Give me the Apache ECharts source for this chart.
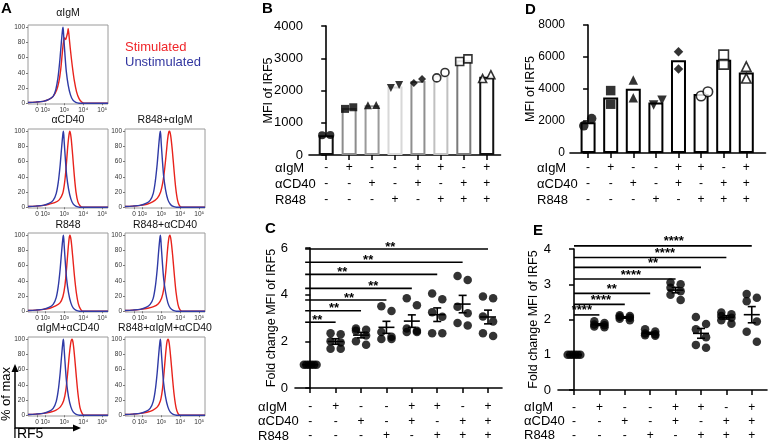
<!DOCTYPE html>
<html><head><meta charset="utf-8">
<script src="https://cdn.jsdelivr.net/npm/echarts@6/dist/echarts.min.js"></script>
<style>html,body{margin:0;padding:0;background:#fff}#c{width:768px;height:442px}</style>
</head><body><div id="c"></div>
<script>
const FONT = "'Liberation Sans', Arial, Helvetica, sans-serif";

// ================= DATA =================
const condIgM  = ['-','+','-','-','+','+','-','+'];
const condCD40 = ['-','-','+','-','+','-','+','+'];
const condR848 = ['-','-','-','+','-','+','+','+'];
const condNames = ['αIgM','αCD40','R848'];

// Panel A histograms (x in decades of IRF5, y = % of max)
const histTitles = ['αIgM','αCD40','R848+αIgM','R848','R848+αCD40','αIgM+αCD40','R848+αIgM+αCD40'];
const histXTickValues = [1.57, 2, 3, 4, 5];
const histXTickLabels = ['0','10²','10³','10⁴','10⁵'];
const histYTicks = [0,20,40,60,80,100];
const histStim = [
  [[1.1,1],[1.5,1.5],[1.9,2.5],[2.2,5],[2.42,9],[2.6,17],[2.72,28],[2.82,45],[2.9,66],[2.96,80],[3.02,86],[3.08,84],[3.13,88],[3.18,93],[3.21,98],[3.25,90],[3.32,72],[3.42,50],[3.53,30],[3.65,15],[3.78,6],[3.92,1.5],[4.05,0],[5.3,0]],
  [[1.1,1],[1.5,1.5],[1.9,2.5],[2.2,4],[2.5,6],[2.75,10],[2.92,18],[3.02,32],[3.1,52],[3.18,78],[3.25,95],[3.3,100],[3.36,92],[3.44,70],[3.53,42],[3.62,20],[3.72,7],[3.83,2],[3.95,0],[5.3,0]],
  [[1.1,1],[1.5,1.5],[1.9,2.5],[2.25,4],[2.55,7],[2.8,12],[2.97,20],[3.08,32],[3.18,50],[3.27,72],[3.34,90],[3.4,99],[3.44,100],[3.5,94],[3.58,76],[3.67,50],[3.76,26],[3.86,9],[3.96,2],[4.08,0],[5.3,0]],
  [[1.1,1],[1.5,1.5],[1.9,2.5],[2.25,4],[2.55,7],[2.78,11],[2.93,19],[3.04,34],[3.12,55],[3.2,80],[3.26,96],[3.3,100],[3.36,94],[3.44,74],[3.54,46],[3.64,24],[3.74,10],[3.85,3],[3.97,0],[5.3,0]],
  [[1.1,1],[1.5,1.5],[1.9,2.5],[2.3,4],[2.6,6],[2.85,10],[3.02,17],[3.14,30],[3.24,52],[3.33,80],[3.4,96],[3.46,100],[3.52,93],[3.6,74],[3.69,48],[3.78,25],[3.88,9],[3.98,2],[4.1,0],[5.3,0]],
  [[1.1,1],[1.5,1.5],[1.9,2.5],[2.25,4],[2.55,6.5],[2.8,11],[2.97,19],[3.08,32],[3.18,55],[3.27,80],[3.35,96],[3.41,100],[3.47,95],[3.55,76],[3.64,50],[3.73,27],[3.83,10],[3.94,2.5],[4.05,0],[5.3,0]],
  [[1.1,1],[1.5,1.5],[1.9,2.5],[2.25,4],[2.55,6.5],[2.8,11],[2.96,19],[3.06,33],[3.15,56],[3.23,80],[3.3,96],[3.36,100],[3.42,95],[3.5,76],[3.59,50],[3.68,27],[3.78,10],[3.88,2.5],[4.0,0],[5.3,0]]
];
const histUnstim = [
  [[1.1,1],[1.5,1.5],[1.9,2.5],[2.2,5],[2.42,9],[2.56,18],[2.67,33],[2.77,56],[2.85,80],[2.91,96],[2.94,100],[2.98,86],[3.04,64],[3.11,42],[3.21,24],[3.33,11],[3.46,4],[3.61,1],[3.78,0],[5.3,0]],
  [[1.1,1],[1.5,1.5],[1.9,2.5],[2.2,5],[2.42,9],[2.58,18],[2.69,33],[2.79,56],[2.87,80],[2.93,96],[2.96,100],[3.0,86],[3.06,64],[3.13,42],[3.23,24],[3.35,11],[3.48,4],[3.63,1],[3.8,0],[5.3,0]],
  [[1.1,1],[1.5,1.5],[1.9,2.5],[2.2,5],[2.42,9],[2.58,18],[2.69,34],[2.79,57],[2.87,81],[2.93,97],[2.96,100],[3.0,85],[3.06,63],[3.13,41],[3.23,23],[3.35,10],[3.48,4],[3.63,1],[3.8,0],[5.3,0]],
  [[1.1,1],[1.5,1.5],[1.9,2.5],[2.2,5],[2.42,9],[2.58,18],[2.69,33],[2.79,56],[2.87,80],[2.93,96],[2.96,100],[3.0,86],[3.06,64],[3.13,42],[3.23,24],[3.35,11],[3.48,4],[3.63,1],[3.8,0],[5.3,0]],
  [[1.1,1],[1.5,1.5],[1.9,2.5],[2.2,5],[2.42,9],[2.58,17],[2.69,32],[2.79,55],[2.87,80],[2.93,96],[2.96,100],[3.0,87],[3.06,65],[3.13,43],[3.23,25],[3.35,11],[3.48,4],[3.63,1],[3.8,0],[5.3,0]],
  [[1.1,1],[1.5,1.5],[1.9,2.5],[2.2,5],[2.42,9],[2.58,18],[2.69,33],[2.79,56],[2.87,80],[2.93,96],[2.96,100],[3.0,86],[3.06,64],[3.13,42],[3.23,24],[3.35,11],[3.48,4],[3.63,1],[3.8,0],[5.3,0]],
  [[1.1,1],[1.5,1.5],[1.9,2.5],[2.2,5],[2.42,9],[2.58,18],[2.69,33],[2.79,56],[2.87,80],[2.93,96],[2.96,100],[3.0,86],[3.06,64],[3.13,42],[3.23,24],[3.35,11],[3.48,4],[3.63,1],[3.8,0],[5.3,0]]
];

// Panel B: MFI of IRF5 (two replicates per condition)
const mfiB = [[610,620],[1430,1480],[1540,1550],[2080,2170],[2230,2360],[2390,2560],[2900,2980],[2370,2490]];
const bBarEdge = ['#111111','#8c8c8c','#9a9a9a','#d8d8d8','#8f8f8f','#c0c0c0','#7a7a7a','#111111'];
// Panel D: MFI of IRF5
const mfiD = [[1700,2150],[3050,3900],[3460,4560],[3000,3300],[5250,6330],[3560,3830],[5540,6130],[4670,5400]];
const markerShape = ['circle','rect','triangle','triangle','diamond','circle','rect','triangle'];
const markerRotate = [0,0,0,180,0,0,0,0];
const markerOpen = [false,false,false,false,false,true,true,true];

// Panel C: fold change MFI of IRF5 (n = 6)
const foldC = [
  [1,1,1,1,1,1],
  [2.35,2.3,2.0,1.95,1.68,1.68],
  [2.55,2.5,2.45,2.25,2.0,1.85],
  [3.5,3.3,2.4,2.2,2.1,2.1],
  [3.85,3.55,2.55,2.45,2.4,2.4],
  [4.05,3.8,3.25,3.05,2.35,2.35],
  [4.8,4.63,3.48,3.2,2.79,2.68],
  [3.92,3.85,3.06,2.85,2.35,2.23]
];
const sigCLevel = [2.82,3.31,3.77,4.27,4.87,5.39,5.96];
const sigCLabel = ['**','**','**','**','**','**','**'];
const sigCTextAt = [0.28,0.94,1.53,2.48,1.26,2.28,3.15];

// Panel E: fold change MFI of IRF5 (n = 6)
const foldE = [
  [1,1,1,1,1,1],
  [1.95,1.9,1.86,1.84,1.8,1.78],
  [2.12,2.1,2.08,2.05,2.02,1.98],
  [1.72,1.66,1.6,1.58,1.55,1.54],
  [3.05,3.0,2.9,2.8,2.7,2.55],
  [2.07,1.87,1.72,1.5,1.28,1.2],
  [2.2,2.15,2.1,2.05,1.98,1.88],
  [2.72,2.62,2.52,1.94,1.65,1.37]
];
const sigELevel = [2.13,2.43,2.74,3.15,3.48,3.76,4.09];
const sigELabel = ['****','****','**','****','**','****','****'];
const sigETextAt = [0.31,1.06,1.49,2.24,3.11,3.58,3.93];

// ================= LAYOUT / BUILD =================
const grids = [], xAxes = [], yAxes = [], series = [], graphics = [];
const RED = '#e8231c', BLUE = '#2f3aa6';
const groupIdx = [0,1,2,3,4,5,6,7];
const condRows = [condIgM, condCD40, condR848];

// --- Panel A ---
const histColLeft = [28,125], histRowTop = [25,129,233,337], histW = 80, histH = 79;
const histTitleY = [13,120,225,328];
const histCell = [[0,0],[1,0],[1,1],[2,0],[2,1],[3,0],[3,1]];
histTitles.forEach((t,k) => {
  const r = histCell[k][0], c = histCell[k][1];
  const left = histColLeft[c], top = histRowTop[r];
  grids.push({left, top, width:histW, height:histH, show:true, borderColor:'#9a9a9a', borderWidth:1, outerBoundsMode:'none', containLabel:false});
  xAxes.push({gridIndex:k, type:'value', min:1.1, max:5.3, axisLine:{show:false}, splitLine:{show:false},
    axisTick:{show:true, customValues:histXTickValues, length:2, lineStyle:{color:'#777'}},
    axisLabel:{customValues:histXTickValues, formatter:v => histXTickLabels[histXTickValues.indexOf(v)], fontSize:6.5, color:'#333', margin:3, fontFamily:FONT, hideOverlap:false}});
  yAxes.push({gridIndex:k, type:'value', min:-1, max:103, axisLine:{show:false}, splitLine:{show:false},
    axisTick:{show:true, customValues:histYTicks, length:2, lineStyle:{color:'#777'}},
    axisLabel:{customValues:histYTicks, fontSize:6.5, color:'#333', margin:3, fontFamily:FONT, hideOverlap:false}});
  graphics.push({type:'text', x:left + histW/2, y:histTitleY[r], style:{text:t, font:'10.5px ' + FONT, fill:'#111', textAlign:'center', textVerticalAlign:'middle'}});
  series.push({type:'line', xAxisIndex:k, yAxisIndex:k, data:histStim[k], showSymbol:false, smooth:0.3, lineStyle:{color:RED, width:1.4}, silent:true, animation:false});
  series.push({type:'line', xAxisIndex:k, yAxisIndex:k, data:histUnstim[k], showSymbol:false, smooth:0.3, lineStyle:{color:BLUE, width:1.4}, silent:true, animation:false});
});
graphics.push({type:'text', x:125, y:47, style:{text:'Stimulated', font:'13px ' + FONT, fill:'#f0262a', textVerticalAlign:'middle'}});
graphics.push({type:'text', x:125, y:62, style:{text:'Unstimulated', font:'13px ' + FONT, fill:'#3236a0', textVerticalAlign:'middle'}});
// axis key arrows
graphics.push({type:'polyline', shape:{points:[[15,371],[15,428],[74,428]]}, style:{stroke:'#000', lineWidth:1.5, fill:null}});
graphics.push({type:'polygon', shape:{points:[[15,364],[11.5,372],[18.5,372]]}, style:{fill:'#000'}});
graphics.push({type:'polygon', shape:{points:[[81,428],[73,424.5],[73,431.5]]}, style:{fill:'#000'}});
graphics.push({type:'text', x:6, y:394, rotation:Math.PI/2, style:{text:'% of max', font:'13px ' + FONT, fill:'#000', textAlign:'center', textVerticalAlign:'middle'}});
graphics.push({type:'text', x:13, y:434, style:{text:'IRF5', font:'14px ' + FONT, fill:'#000', textVerticalAlign:'middle'}});

// --- common axis builders for B/C/D/E ---
function condAxis(gi, min, max) {
  return {gridIndex:gi, type:'value', min, max, splitLine:{show:false},
    axisLine:{show:true, lineStyle:{color:'#000', width:1.6}},
    axisTick:{show:true, customValues:groupIdx, length:5, lineStyle:{color:'#000', width:1.5}},
    axisLabel:{show:false}};
}
function valAxis(gi, max, interval, name, nameGap, margin, fs) {
  return {gridIndex:gi, type:'value', min:0, max, interval, splitLine:{show:false},
    axisLine:{show:true, lineStyle:{color:'#000', width:1.6}},
    axisTick:{show:true, length:5, lineStyle:{color:'#000', width:1.5}},
    axisLabel:{fontSize:fs, color:'#000', margin, fontFamily:FONT, formatter:v => String(v)},
    name, nameLocation:'middle', nameRotate:90, nameGap, nameMoveOverlap:false,
    nameTextStyle:{fontSize:12.5, color:'#000', fontFamily:FONT}};
}
// condition (+/-) rows below an axis, placed through the axis scale
function condSeries(ax, rowOffsets) {
  series.push({type:'custom', xAxisIndex:ax, yAxisIndex:ax, clip:false, animation:false, silent:true,
    data: groupIdx.map(i => [i, 0]), encode:{x:0, y:1},
    renderItem:(params, api) => {
      const i = api.value(0);
      const p = api.coord([i, 0]);
      return {type:'group', children: condRows.map((row, r) => ({type:'text', x:p[0], y:p[1] + rowOffsets[r],
        style:{text:row[i], font:'12px ' + FONT, fill:'#000', textAlign:'center', textVerticalAlign:'middle'}}))};
    }});
}
function rowNames(x, ys) {
  condNames.forEach((n,i) => graphics.push({type:'text', x, y:ys[i], style:{text:n, font:'13px ' + FONT, fill:'#000', textVerticalAlign:'middle'}}));
}
function dotItem(i, x, v, size) {
  return {value:[x, v], symbol:markerShape[i], symbolRotate:markerRotate[i], symbolSize:size,
    itemStyle:{color:markerOpen[i] ? '#fff' : '#000', borderColor:'#000', borderWidth:markerOpen[i] ? 1.6 : 0}};
}

// --- Panel B (grid 7) ---
grids.push({left:309, top:26, width:191.5, height:129, outerBoundsMode:'none', containLabel:false});
xAxes.push(condAxis(7, -0.75, 7.6));
yAxes.push(valAxis(7, 4000, 1000, 'MFI of IRF5', 34, 6, 13));
rowNames(275, [168,184,200]);
condSeries(7, [13,29,45]);
series.push({type:'bar', xAxisIndex:7, yAxisIndex:7, barWidth:15, animation:false, silent:true,
  data: mfiB.map((p,i) => ({value:[i, (p[0]+p[1])/2], itemStyle:{color:'#fff', borderColor:bBarEdge[i], borderWidth:2}}))});
const bJit = [-0.18, 0.18];
const bDots = [];
mfiB.forEach((p,i) => p.forEach((v,j) => bDots.push(dotItem(i, i + bJit[j], v, 8))));
series.push({type:'scatter', xAxisIndex:7, yAxisIndex:7, data:bDots, animation:false, silent:true});

// --- Panel D (grid 8) ---
grids.push({left:570, top:25, width:195.5, height:128, outerBoundsMode:'none', containLabel:false});
xAxes.push(condAxis(8, -0.8, 7.85));
yAxes.push(valAxis(8, 8000, 2000, 'MFI of IRF5', 33, 5, 12));
rowNames(537, [168,184,200]);
condSeries(8, [15,31,47]);
series.push({type:'bar', xAxisIndex:8, yAxisIndex:8, barWidth:15, animation:false, silent:true,
  data: mfiD.map((p,i) => ({value:[i, (p[0]+p[1])/2], itemStyle:{color:'#fff', borderColor:'#000', borderWidth:2}}))});
const dJit = [[-0.19,0.16],[0,0],[0,0],[-0.1,0.27],[0,0],[0,0.3],[0,0],[0,0]];
const dDots = [];
mfiD.forEach((p,i) => p.forEach((v,j) => dDots.push(dotItem(i, i + dJit[i][j], v, 9.5))));
series.push({type:'scatter', xAxisIndex:8, yAxisIndex:8, data:dDots, animation:false, silent:true});

// --- helpers for C/E ---
function meanSem(a) {
  const n = a.length, m = a.reduce((s,v) => s + v, 0) / n;
  const sd = Math.sqrt(a.reduce((s,v) => s + (v-m)*(v-m), 0) / (n-1));
  return [m, sd / Math.sqrt(n)];
}
const dotJit = [[-0.25,-0.15,-0.05,0.05,0.15,0.25],[-0.2,0.2,-0.2,0.2,-0.2,0.2]];
function foldSeries(ax, groups) {
  const dots = [];
  groups.forEach((g,i) => g.forEach((v,j) => dots.push([i + (i === 0 ? dotJit[0][j] : dotJit[1][j]), v])));
  series.push({type:'scatter', xAxisIndex:ax, yAxisIndex:ax, data:dots, symbol:'circle', symbolSize:8.5, itemStyle:{color:'#000'}, animation:false, silent:true});
  series.push({type:'custom', xAxisIndex:ax, yAxisIndex:ax, clip:false, animation:false, silent:true,
    data: groups.map((g,i) => { const ms = meanSem(g); return [i, ms[0], ms[1]]; }),
    encode:{x:0, y:1},
    renderItem:(params, api) => {
      const x = api.value(0), m = api.value(1), s = api.value(2);
      const pm = api.coord([x, m]), pt = api.coord([x, m + s]), pb = api.coord([x, m - s]);
      const st = {stroke:'#000', lineWidth:1.6};
      return {type:'group', children:[
        {type:'line', shape:{x1:pm[0]-8, y1:pm[1], x2:pm[0]+8, y2:pm[1]}, style:st},
        {type:'line', shape:{x1:pt[0], y1:pt[1], x2:pb[0], y2:pb[1]}, style:st},
        {type:'line', shape:{x1:pt[0]-4, y1:pt[1], x2:pt[0]+4, y2:pt[1]}, style:st},
        {type:'line', shape:{x1:pb[0]-4, y1:pb[1], x2:pb[0]+4, y2:pb[1]}, style:st}
      ]};
    }});
}
function sigSeries(ax, start, levels, labels, textAt, dy) {
  series.push({type:'custom', xAxisIndex:ax, yAxisIndex:ax, clip:false, animation:false, silent:true,
    data: levels.map((l,i) => [start, i + 1, l, textAt[i]]),
    encode:{x:[0,1,3], y:2},
    renderItem:(params, api) => {
      const a = api.coord([api.value(0), api.value(2)]);
      const b = api.coord([api.value(1), api.value(2)]);
      const t = api.coord([api.value(3), api.value(2)]);
      return {type:'group', children:[
        {type:'line', shape:{x1:a[0], y1:a[1], x2:b[0], y2:b[1]}, style:{stroke:'#000', lineWidth:1.6}},
        {type:'text', x:t[0], y:t[1] - dy, style:{text:labels[params.dataIndex], font:'bold 13px ' + FONT, fill:'#000', textAlign:'center', textVerticalAlign:'middle'}}
      ]};
    }});
}

// --- Panel C (grid 9) ---
grids.push({left:295, top:248, width:207, height:140, outerBoundsMode:'none', containLabel:false});
xAxes.push(condAxis(9, -0.6, 7.55));
yAxes.push(valAxis(9, 6, 2, 'Fold change MFI of IRF5', 17, 7, 13));
rowNames(258, [407,421.5,436]);
condSeries(9, [19,33.5,48]);
foldSeries(9, foldC);
sigSeries(9, -0.2, sigCLevel, sigCLabel, sigCTextAt, 2);

// --- Panel E (grid 10) ---
grids.push({left:558, top:249, width:209, height:141, outerBoundsMode:'none', containLabel:false});
xAxes.push(condAxis(10, -0.63, 7.6));
yAxes.push(valAxis(10, 4, 1, 'Fold change MFI of IRF5', 18, 7, 13));
rowNames(524, [407.5,421.5,435.5]);
condSeries(10, [17.5,31.5,45.5]);
foldSeries(10, foldE);
sigSeries(10, 0, sigELevel, sigELabel, sigETextAt, 4);

// panel letters
[['A',1,9],['B',262,9],['C',265,229],['D',525,10],['E',533,231]].forEach(l =>
  graphics.push({type:'text', x:l[1], y:l[2], style:{text:l[0], font:'bold 15px ' + FONT, fill:'#000', textVerticalAlign:'middle'}}));

const chart = echarts.init(document.getElementById('c'));
chart.setOption({
  animation:false,
  backgroundColor:'#fff',
  textStyle:{fontFamily:FONT},
  grid:grids, xAxis:xAxes, yAxis:yAxes, series, graphic:graphics
});
</script></body></html>
